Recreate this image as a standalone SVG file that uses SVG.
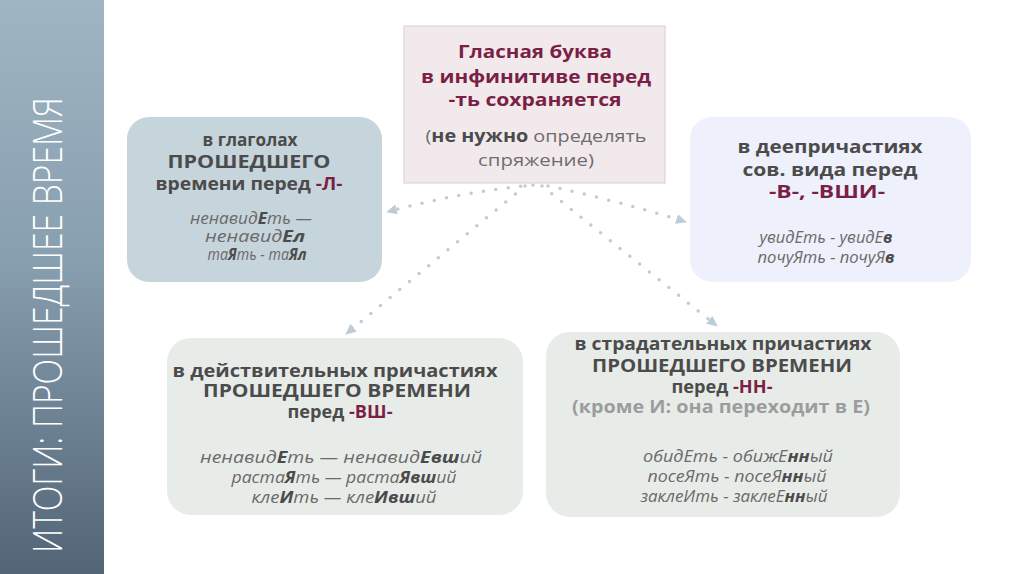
<svg xmlns="http://www.w3.org/2000/svg" width="1024" height="574" viewBox="0 0 1024 574">
<defs>
<linearGradient id="side" x1="0" y1="0" x2="0" y2="1">
<stop offset="0" stop-color="#a0b5c3"/>
<stop offset="0.45" stop-color="#889fb0"/>
<stop offset="1" stop-color="#526577"/>
</linearGradient>
<marker id="arr" markerWidth="12" markerHeight="10" refX="10" refY="5" orient="auto" markerUnits="userSpaceOnUse">
<path d="M0,0 L11,5 L0,10 Z" fill="#bccdd7"/>
</marker>
<style>
text{font-family:"Open Sans","Liberation Sans",sans-serif;text-anchor:middle}
.h{font-weight:700;font-size:17px;fill:#4b4b4b}
.t{font-weight:700;font-size:18px;fill:#7a1f46}
.m{fill:#7a1f46}
.i{font-style:italic;font-weight:400;font-size:15.5px;fill:#6a6a6a}
.b{font-weight:700;fill:#4b4b4b}
.g{font-weight:400;font-size:17px;fill:#6e6e6e}
.lg{fill:#9c9c9c}
.c{fill:none;stroke:#bccdd7;stroke-width:3.5;stroke-linecap:round;stroke-dasharray:0 12.5}
</style>
</defs>
<rect width="1024" height="574" fill="#ffffff"/>
<g id="sidebar">
<rect x="0" y="0" width="104" height="574" fill="url(#side)"/>
<text transform="translate(62,553) rotate(-90)" x="0" y="0" textLength="456" lengthAdjust="spacingAndGlyphs" style="text-anchor:start;font-weight:300;font-size:40px;fill:#ffffff">ИТОГИ: ПРОШЕДШЕЕ ВРЕМЯ</text>
</g>
<g id="connectors">
<path class="c" d="M533,185 Q460,192 387,212" marker-end="url(#arr)"/>
<path class="c" d="M548,186 Q615,200 686,222" marker-end="url(#arr)"/>
<path class="c" d="M525,186 L346,334" marker-end="url(#arr)"/>
<path class="c" d="M542,186 L717,326" marker-end="url(#arr)"/>
</g>
<g id="top">
<rect x="404" y="26" width="261" height="157" fill="#f2e9ed" stroke="#d9d6d8" stroke-width="1.2"/>
<text class="t" x="535" y="58" textLength="154" lengthAdjust="spacingAndGlyphs">Гласная буква</text>
<text class="t" x="536" y="83" textLength="230" lengthAdjust="spacingAndGlyphs">в инфинитиве перед</text>
<text class="t" x="535" y="106" textLength="173" lengthAdjust="spacingAndGlyphs">-ть сохраняется</text>
<text class="g" x="536" y="142" textLength="221" lengthAdjust="spacingAndGlyphs">(<tspan class="b">не нужно</tspan> определять</text>
<text class="g" x="536" y="166" textLength="116" lengthAdjust="spacingAndGlyphs">спряжение)</text>
</g>
<g id="left">
<rect x="127" y="117" width="255" height="165" rx="22" fill="#c6d4db"/>
<text class="h" x="250" y="146" textLength="95" lengthAdjust="spacingAndGlyphs">в глаголах</text>
<text class="h" x="249" y="168" textLength="163" lengthAdjust="spacingAndGlyphs">ПРОШЕДШЕГО</text>
<text class="h" x="249" y="190" textLength="187" lengthAdjust="spacingAndGlyphs">времени перед <tspan class="m">-Л-</tspan></text>
<text class="i" x="251" y="224" textLength="122" lengthAdjust="spacingAndGlyphs">ненавид<tspan class="b">Е</tspan>ть —</text>
<text class="i" x="255" y="242" textLength="100" lengthAdjust="spacingAndGlyphs">ненавид<tspan class="b">Ел</tspan></text>
<text class="i" x="257" y="260" textLength="99" lengthAdjust="spacingAndGlyphs">та<tspan class="b">Я</tspan>ть - та<tspan class="b">Ял</tspan></text>
</g>
<g id="right">
<rect x="690" y="117" width="281" height="165" rx="22" fill="#eef0fb"/>
<text class="h" x="830" y="153" textLength="185" lengthAdjust="spacingAndGlyphs">в деепричастиях</text>
<text class="h" x="830" y="176" textLength="175" lengthAdjust="spacingAndGlyphs">сов. вида перед</text>
<text class="t" x="827" y="198" textLength="116" lengthAdjust="spacingAndGlyphs">-В-, -ВШИ-</text>
<text class="i" x="826" y="243" textLength="133" lengthAdjust="spacingAndGlyphs">увидЕть - увидЕ<tspan class="b">в</tspan></text>
<text class="i" x="826" y="263" textLength="137" lengthAdjust="spacingAndGlyphs">почуЯть - почуЯ<tspan class="b">в</tspan></text>
</g>
<g id="bottom-left">
<rect x="167" y="338" width="356" height="177" rx="24" fill="#e8ece9"/>
<text class="h" x="335" y="377" textLength="325" lengthAdjust="spacingAndGlyphs">в действительных причастиях</text>
<text class="h" x="337" y="397" textLength="268" lengthAdjust="spacingAndGlyphs">ПРОШЕДШЕГО ВРЕМЕНИ</text>
<text class="h" x="340" y="418" textLength="105" lengthAdjust="spacingAndGlyphs">перед <tspan class="m">-ВШ-</tspan></text>
<text class="i" x="341" y="463" textLength="282" lengthAdjust="spacingAndGlyphs">ненавид<tspan class="b">Е</tspan>ть — ненавид<tspan class="b">Евш</tspan>ий</text>
<text class="i" x="344" y="483" textLength="225" lengthAdjust="spacingAndGlyphs">раста<tspan class="b">Я</tspan>ть — раста<tspan class="b">Явш</tspan>ий</text>
<text class="i" x="344" y="503" textLength="185" lengthAdjust="spacingAndGlyphs">кле<tspan class="b">И</tspan>ть — кле<tspan class="b">Ивш</tspan>ий</text>
</g>
<g id="bottom-right">
<rect x="546" y="332" width="354" height="185" rx="24" fill="#e8ece9"/>
<text class="h" x="723" y="350" textLength="297" lengthAdjust="spacingAndGlyphs">в страдательных причастиях</text>
<text class="h" x="722" y="372" textLength="260" lengthAdjust="spacingAndGlyphs">ПРОШЕДШЕГО ВРЕМЕНИ</text>
<text class="h" x="722" y="393" textLength="101" lengthAdjust="spacingAndGlyphs">перед <tspan class="m">-НН-</tspan></text>
<text class="h lg" x="721" y="413" textLength="298" lengthAdjust="spacingAndGlyphs">(кроме И: она переходит в Е)</text>
<text class="i" x="738" y="462" textLength="190" lengthAdjust="spacingAndGlyphs">обидЕть - обижЕ<tspan class="b">нн</tspan>ый</text>
<text class="i" x="737" y="482" textLength="179" lengthAdjust="spacingAndGlyphs">посеЯть - посеЯ<tspan class="b">нн</tspan>ый</text>
<text class="i" x="734" y="502" textLength="187" lengthAdjust="spacingAndGlyphs">заклеИть - заклеЕ<tspan class="b">нн</tspan>ый</text>
</g>
</svg>
